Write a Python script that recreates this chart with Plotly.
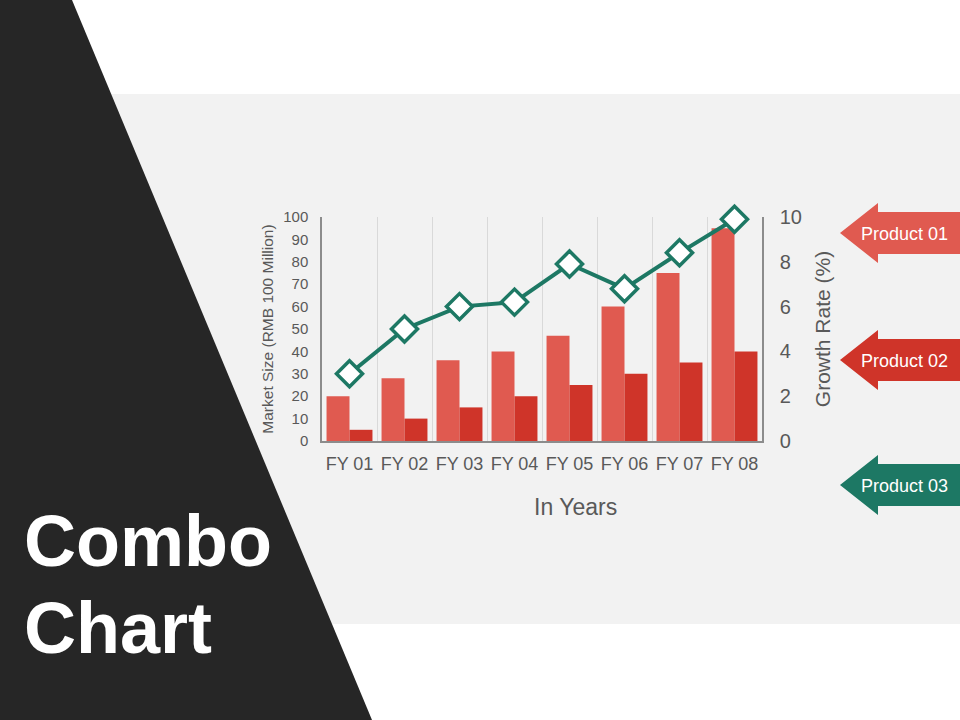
import plotly.graph_objects as go

years = ["FY 01", "FY 02", "FY 03", "FY 04", "FY 05", "FY 06", "FY 07", "FY 08"]
product_01 = [20, 28, 36, 40, 47, 60, 75, 95]
product_02 = [5, 10, 15, 20, 25, 30, 35, 40]
growth_rate = [3.0, 5.0, 6.0, 6.2, 7.9, 6.8, 8.4, 9.9]

legend_labels = ["Product 01", "Product 02", "Product 03"]

W, H = 960, 720
FONT = "Liberation Sans, Arial, sans-serif"
RED1 = "#E05A50"
RED2 = "#CF3429"
TEAL = "#1D7864"
GREY_TXT = "#595959"


def px(x):
    return x / W


def py(y):
    return 1 - y / H


def path(points):
    s = "M " + " L ".join("%.5f,%.5f" % (px(x), py(y)) for x, y in points)
    return s + " Z"


fig = go.Figure()

fig.add_trace(go.Bar(x=years, y=product_01, name=legend_labels[0],
                     marker=dict(color=RED1, line=dict(width=0))))
fig.add_trace(go.Bar(x=years, y=product_02, name=legend_labels[1],
                     marker=dict(color=RED2, line=dict(width=0))))
fig.add_trace(go.Scatter(x=years, y=growth_rate, yaxis="y2", mode="lines+markers",
                         name=legend_labels[2], cliponaxis=False,
                         line=dict(color=TEAL, width=4),
                         marker=dict(symbol="diamond", size=20, color="white",
                                     line=dict(color=TEAL, width=3.5))))

shapes = [
    # grey band
    dict(type="rect", xref="paper", yref="paper", x0=0, x1=1, y0=py(624), y1=py(94),
         fillcolor="#F2F2F2", line=dict(width=0), layer="below"),
    # black slanted panel
    dict(type="path", xref="paper", yref="paper",
         path=path([(0, 0), (72, 0), (372, 720), (0, 720)]),
         fillcolor="#262626", line=dict(width=0), layer="below"),
]

arrow_cols = [RED1, RED2, TEAL]
arrow_y = [233, 360, 485]
annotations = []
for lab, col, cy in zip(legend_labels, arrow_cols, arrow_y):
    pts = [(840, cy), (878, cy - 30), (878, cy - 21), (960, cy - 21),
           (960, cy + 21), (878, cy + 21), (878, cy + 30)]
    shapes.append(dict(type="path", xref="paper", yref="paper", path=path(pts),
                       fillcolor=col, line=dict(width=0), layer="above"))
    annotations.append(dict(x=px(904), y=py(cy + 1), xref="paper", yref="paper",
                            xanchor="center", yanchor="middle",
                            text=lab, showarrow=False,
                            font=dict(family=FONT, size=18, color="white")))

annotations.append(dict(x=px(22), y=py(541), xref="paper", yref="paper",
                        xanchor="left", yanchor="middle", showarrow=False,
                        text="<b>Combo</b>",
                        font=dict(family=FONT, size=72, color="white")))
annotations.append(dict(x=px(22), y=py(628), xref="paper", yref="paper",
                        xanchor="left", yanchor="middle", showarrow=False,
                        text="<b>Chart</b>",
                        font=dict(family=FONT, size=72, color="white")))
# x axis title sits a little right of the plot centre in the original
annotations.append(dict(x=px(575), y=py(507), xref="paper", yref="paper",
                        xanchor="center", yanchor="middle", showarrow=False,
                        text="In Years",
                        font=dict(family=FONT, size=23, color=GREY_TXT)))

fig.update_layout(
    width=W, height=H,
    margin=dict(l=0, r=0, t=0, b=0),
    paper_bgcolor="white",
    plot_bgcolor="rgba(0,0,0,0)",
    showlegend=False,
    barmode="group",
    bargap=0.165,
    bargroupgap=0,
    font=dict(family=FONT, color=GREY_TXT),
    shapes=shapes,
    annotations=annotations,
    xaxis=dict(domain=[px(322), px(762)], type="category", tickangle=0,
               range=[-0.5, len(years) - 0.5],
               tickson="boundaries", showgrid=True, gridcolor="#D9D9D9", gridwidth=1,
               showline=True, linecolor="#8C8C8C", linewidth=1.5, ticks="",
               ticklabelstandoff=6,
               tickfont=dict(size=18, color=GREY_TXT), automargin=False,
               zeroline=False),
    yaxis=dict(domain=[py(441), py(217)], range=[0, 100], dtick=10,
               showgrid=False, showline=True, linecolor="#8C8C8C", linewidth=1.5,
               ticks="", zeroline=False, automargin=False, ticklabelstandoff=9,
               tickfont=dict(size=15, color=GREY_TXT),
               title=dict(text="Market Size (RMB 100 Million)",
                          font=dict(size=15.5, color=GREY_TXT), standoff=6)),
    yaxis2=dict(overlaying="y", side="right", range=[0, 10], dtick=2,
                showgrid=False, showline=True, linecolor="#8C8C8C", linewidth=1.5,
                ticks="", zeroline=False, automargin=False, ticklabelstandoff=12,
                tickfont=dict(size=20, color=GREY_TXT),
                title=dict(text="Growth Rate (%)", font=dict(size=21, color=GREY_TXT),
                           standoff=14)),
)

# pin the figure to the top-left corner of the window
pin = ("document.documentElement.style.margin='0';"
       "document.body.style.margin='0';"
       "document.body.style.overflow='hidden';"
       "var d=document.getElementsByClassName('plotly-graph-div')[0];"
       "d.style.position='fixed';d.style.left='0px';d.style.top='0px';")

fig.write_html("out.html", config={"displayModeBar": False}, post_script=pin)
